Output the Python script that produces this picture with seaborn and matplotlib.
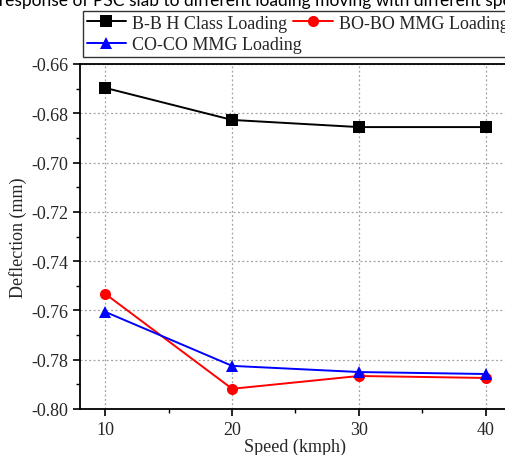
import matplotlib
matplotlib.use("Agg")
import matplotlib.pyplot as plt
import seaborn as sns
import pandas as pd
from matplotlib.ticker import MultipleLocator

speeds = [10, 20, 30, 40]
bb_h_class = [-0.6697, -0.6827, -0.6856, -0.6856]
bobo_mmg = [-0.7533, -0.7918, -0.7866, -0.7874]
coco_mmg = [-0.7606, -0.7825, -0.7850, -0.7858]
series_names = ["B-B H Class Loading", "BO-BO MMG Loading", "CO-CO MMG Loading"]
title_hidden = "Deflection "
title_visible = "response of PSC slab to different loading moving with different speed"

df = pd.concat([
    pd.DataFrame({"Speed": speeds, "Deflection": vals, "Series": name})
    for name, vals in zip(series_names, [bb_h_class, bobo_mmg, coco_mmg])
])

sns.set_style("ticks")
plt.rcParams["font.family"] = ["Liberation Serif", "DejaVu Serif"]

fig = plt.figure(figsize=(5.06, 4.56), dpi=100)
ax = fig.add_axes([80/506, 1-410/456, (511-80)/506, (410-65)/456])

palette = {series_names[0]: "black", series_names[1]: "red", series_names[2]: "blue"}
markers = {series_names[0]: "s", series_names[1]: "o", series_names[2]: "^"}
sns.lineplot(data=df, x="Speed", y="Deflection", hue="Series", style="Series",
             palette=palette, markers=markers, dashes=False, markersize=8,
             markeredgewidth=0, linewidth=1.4, ax=ax, legend=False)

ax.set_xlim(8, 42)
ax.set_ylim(-0.80, -0.66)
ax.xaxis.set_major_locator(MultipleLocator(10))
ax.xaxis.set_minor_locator(MultipleLocator(5))
ax.yaxis.set_major_locator(MultipleLocator(0.02))
ax.yaxis.set_minor_locator(MultipleLocator(0.01))
ax.yaxis.set_major_formatter(matplotlib.ticker.FuncFormatter(lambda v, p: f"{v:.2f}"))
ax.tick_params(which="major", direction="out", length=5, width=1.2, labelsize=13, color="black")
ax.tick_params(which="minor", direction="out", length=3, width=1.0, color="black")
ax.grid(True, which="major", color="#a0a0a0", linestyle=(0, (1.5, 2)), linewidth=0.9)
for s in ax.spines.values():
    s.set_linewidth(1.3)
    s.set_color("black")
ax.set_xlabel("Speed (kmph)", fontsize=13, labelpad=0)
ax.set_ylabel("Deflection (mm)", fontsize=13, labelpad=3)

handles = {}
for name in series_names:
    h, = ax.plot([], [], color=palette[name], marker=markers[name], markersize=8,
                 markeredgewidth=0, linewidth=1.4)
    handles[name] = h
order = [series_names[0], series_names[2], series_names[1]]
leg = fig.legend([handles[n] for n in order], order, ncol=2, loc="upper left",
                 bbox_to_anchor=(83/506, 1-12/456), frameon=True, fancybox=False,
                 edgecolor="black", fontsize=13, handlelength=2.2,
                 handletextpad=0.3, columnspacing=-0.45, labelspacing=0.25,
                 borderpad=0.2, borderaxespad=0)
leg.get_frame().set_linewidth(1.0)

# title partly cut off at the top edge, as in the reference
tfont = dict(fontsize=12.5, family=["Lato", "DejaVu Sans"])
renderer = fig.canvas.get_renderer()
probe = fig.text(0, 0, title_hidden + "r", **tfont)
probe_r = fig.text(0, 0, "r", **tfont)
w_full = probe.get_window_extent(renderer).width
w_r = probe_r.get_window_extent(renderer).width
probe.remove()
probe_r.remove()
shift = (w_full - w_r) / 506
fig.text(-shift - 1/506, 1-6/456, title_hidden + title_visible, ha="left", va="baseline",
         color="black", **tfont)

fig.savefig("out.png", dpi=100)
